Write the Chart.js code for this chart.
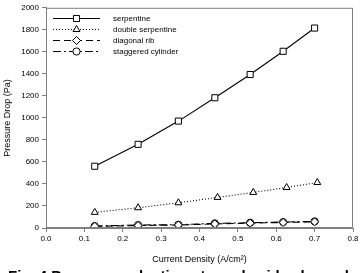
<!DOCTYPE html>
<html>
<head>
<meta charset="utf-8">
<script src="https://cdn.jsdelivr.net/npm/chart.js@4/dist/chart.umd.min.js"></script>
<style>
  html, body { margin: 0; padding: 0; background: #fff; overflow: hidden; }
  #wrap { position: relative; width: 361px; height: 273px; overflow: hidden; }
  #caption {
    position: absolute; left: 8px; top: 268px; white-space: nowrap;
    font: bold 15px "Liberation Sans", Arial, sans-serif; line-height: 15px; color: #000;
  }
</style>
</head>
<body>
<div id="wrap">
  <canvas id="chart" width="361" height="273"></canvas>
  <div id="caption">Fig. 4 Pressure reduction at anode side channels</div>
</div>
<script>
// Current density (A/cm2) for each measured point
const currentDensity = [0.127, 0.24, 0.345, 0.44, 0.532, 0.618, 0.70]
const dsCurrentDensity = [0.127, 0.24, 0.345, 0.447, 0.54, 0.627, 0.707]

// Pressure drop (Pa)
const serpentine = [561, 760, 971, 1183, 1394, 1605, 1816]
const doubleSerpentine = [142, 184, 229, 278, 323, 368, 413]
const diagonalRib = [15, 22, 27, 37, 44, 50, 56]
const staggeredCylinder = [18, 27, 30, 42, 48, 54, 60]

const seriesNames = ['serpentine', 'double serpentine', 'diagonal rib', 'staggered cylinder']
const xTicks = [0, 0.1, 0.2, 0.3, 0.4, 0.5, 0.6, 0.7, 0.8]
const yTicks = [0, 200, 400, 600, 800, 1000, 1200, 1400, 1600, 1800, 2000]

const FONT = '"Liberation Sans", Arial, sans-serif'
const AXIS_GREY = '#7f7f7f'

const toPoints = (xs, ys) => ys.map((y, i) => ({ x: xs[i], y }))

const styles = [
  { pointStyle: 'rect', pointRadius: 4.3, borderDash: [] },
  { pointStyle: 'triangle', pointRadius: 4, borderDash: [1, 2] },
  { pointStyle: 'rectRot', pointRadius: 4, borderDash: [7, 4] },
  { pointStyle: 'circle', pointRadius: 3.6, borderDash: [8, 3, 2, 3] },
]

const seriesValues = [serpentine, doubleSerpentine, diagonalRib, staggeredCylinder]
const seriesX = [currentDensity, dsCurrentDensity, currentDensity, currentDensity]

const datasets = seriesNames.map((name, i) => ({
  label: name,
  data: toPoints(seriesX[i], seriesValues[i]),
  borderColor: '#000',
  borderWidth: 1.1,
  borderDash: styles[i].borderDash,
  backgroundColor: '#fff',
  pointBackgroundColor: '#fff',
  pointBorderColor: '#000',
  pointBorderWidth: 1,
  pointStyle: styles[i].pointStyle,
  pointRadius: styles[i].pointRadius,
  tension: 0,
  fill: false,
}))

// Plot frame around the chart area
const frame = {
  id: 'frame',
  afterDraw(chart) {
    const { ctx, chartArea: a } = chart
    ctx.save()
    ctx.strokeStyle = AXIS_GREY
    ctx.lineWidth = 1
    ctx.strokeRect(a.left + 0.5, a.top + 0.5, a.right - a.left - 1, a.bottom - a.top - 1)
    ctx.restore()
  },
}

// Legend with line sample and marker, like the original figure
const lineLegend = {
  id: 'lineLegend',
  afterDatasetsDraw(chart) {
    const { ctx } = chart
    const x0 = 53, x1 = 100, tx = 113
    const rows = [18, 29, 40, 51]
    ctx.save()
    seriesNames.forEach((name, i) => {
      const y = rows[i] + 0.5
      const st = styles[i]
      ctx.strokeStyle = '#000'
      ctx.lineWidth = 1
      ctx.setLineDash(st.borderDash)
      ctx.beginPath()
      ctx.moveTo(x0, y)
      ctx.lineTo(x1, y)
      ctx.stroke()
      ctx.setLineDash([])
      ctx.fillStyle = '#fff'
      Chart.helpers.drawPoint(ctx, {
        pointStyle: st.pointStyle,
        radius: st.pointRadius,
        rotation: 0,
        borderWidth: 1,
      }, (x0 + x1) / 2, y)
      ctx.fillStyle = '#000'
      ctx.font = '8px ' + FONT
      ctx.textBaseline = 'middle'
      ctx.textAlign = 'left'
      ctx.fillText(name, tx, y)
    })
    ctx.restore()
  },
}

const ctx = document.getElementById('chart').getContext('2d')
new Chart(ctx, {
  type: 'line',
  data: { datasets },
  plugins: [frame, lineLegend],
  options: {
    responsive: false,
    animation: false,
    layout: { padding: { left: 0, right: 8, top: 7, bottom: 8 } },
    plugins: { legend: { display: false }, tooltip: { enabled: false } },
    scales: {
      x: {
        type: 'linear',
        min: 0,
        max: 0.8,
        afterFit: (s) => { s.height = 37 },
        afterBuildTicks: (s) => { s.ticks = xTicks.map(v => ({ value: v })) },
        grid: { drawOnChartArea: false, tickLength: 4, color: AXIS_GREY },
        border: { color: AXIS_GREY },
        ticks: {
          padding: 2,
          color: '#000',
          font: { family: FONT, size: 8 },
          callback: (v) => Number(v).toFixed(1),
        },
        title: {
          display: true,
          text: 'Current Density (A/cm²)',
          color: '#000',
          font: { family: FONT, size: 9 },
          padding: { top: 0, bottom: 0 },
        },
      },
      y: {
        min: 0,
        max: 2000,
        afterFit: (s) => { s.width = 46 },
        afterBuildTicks: (s) => { s.ticks = yTicks.map(v => ({ value: v })) },
        grid: { drawOnChartArea: false, tickLength: 4, color: AXIS_GREY },
        border: { color: AXIS_GREY },
        ticks: {
          padding: 3,
          color: '#000',
          font: { family: FONT, size: 8 },
          callback: (v) => String(v),
        },
        title: {
          display: true,
          text: 'Pressure Drop (Pa)',
          color: '#000',
          font: { family: FONT, size: 9 },
          padding: { top: 2, bottom: 0 },
        },
      },
    },
  },
})
</script>
</body>
</html>
